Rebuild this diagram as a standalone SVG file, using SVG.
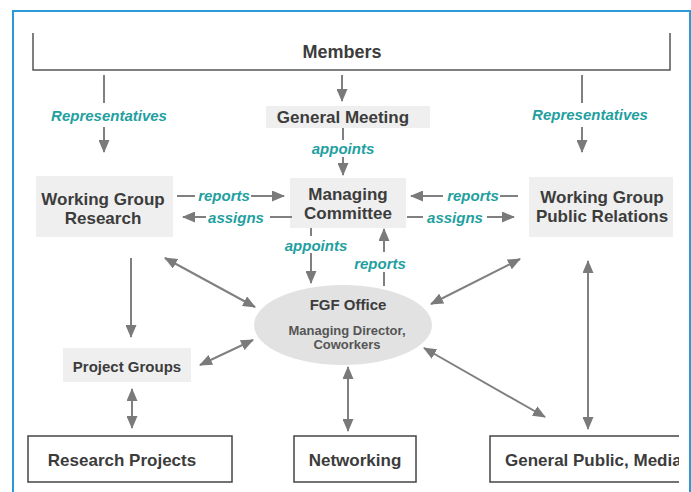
<svg xmlns="http://www.w3.org/2000/svg" width="691" height="492" viewBox="0 0 691 492">
<style>
.node{font-family:"Liberation Sans",Arial,sans-serif;font-weight:bold;fill:#3c3c3c;text-anchor:middle;dominant-baseline:central}
.lbl{font-family:"Liberation Sans",Arial,sans-serif;font-weight:bold;font-style:italic;font-size:15px;fill:#1fa0a0;text-anchor:middle;dominant-baseline:central}
.grey{fill:#efefef;stroke:none}
.box{fill:#fff;stroke:#444;stroke-width:1.5}
.ln{stroke:#808080;stroke-width:2;fill:none}
.a{marker-end:url(#ah)}
.aa{marker-end:url(#ah);marker-start:url(#ah)}
</style>
<defs>
<marker id="ah" viewBox="0 0 13 11" refX="12" refY="5.5" markerWidth="13" markerHeight="11" markerUnits="userSpaceOnUse" orient="auto-start-reverse">
<path d="M0,0 L13,5.5 L0,11 z" fill="#7a7a7a"/>
</marker>
<clipPath id="clipR"><rect x="0" y="0" width="679" height="492"/></clipPath>
</defs>
<rect width="691" height="492" fill="#fff"/>
<path d="M13,492 L13,11 L690,11 L690,492" fill="none" stroke="#2b9ad6" stroke-width="2"/>

<g id="members">
<path d="M33,33 L33,70 L670,70 L670,33" fill="none" stroke="#555" stroke-width="1.5"/>
<text class="node" x="342" y="52" font-size="18">Members</text>
</g>
<g id="general-meeting">
<rect class="grey" x="266" y="106" width="164" height="22"/>
<text class="node" x="343" y="117" font-size="17">General Meeting</text>
</g>
<g id="managing-committee">
<rect class="grey" x="290" y="178" width="116" height="50"/>
<text class="node" x="348" y="194" font-size="17">Managing</text>
<text class="node" x="348" y="213" font-size="17">Committee</text>
</g>
<g id="wg-research">
<rect class="grey" x="36" y="176" width="137" height="61"/>
<text class="node" x="103" y="199" font-size="17">Working Group</text>
<text class="node" x="103" y="218" font-size="17">Research</text>
</g>
<g id="wg-pr">
<rect class="grey" x="529" y="177" width="144" height="60"/>
<text class="node" x="602" y="197" font-size="17">Working Group</text>
<text class="node" x="602" y="216" font-size="17">Public Relations</text>
</g>
<g id="fgf-office">
<ellipse cx="343" cy="325" rx="89" ry="40" fill="#e2e2e2"/>
<text class="node" x="348" y="304" font-size="15">FGF Office</text>
<text class="node" x="347" y="330" font-size="13" fill="#555" style="fill:#555">Managing Director,</text>
<text class="node" x="347" y="344" font-size="13" style="fill:#555">Coworkers</text>
</g>
<g id="project-groups">
<rect class="grey" x="63" y="348" width="128" height="34"/>
<text class="node" x="127" y="366" font-size="15">Project Groups</text>
</g>
<g id="research-projects">
<rect class="box" x="28" y="436" width="204" height="46"/>
<text class="node" x="122" y="460" font-size="17">Research Projects</text>
</g>
<g id="networking">
<rect class="box" x="294" y="436" width="122" height="46"/>
<text class="node" x="355" y="460" font-size="17">Networking</text>
</g>
<g id="general-public" clip-path="url(#clipR)">
<rect class="box" x="490" y="436" width="230" height="46"/>
<text class="node" x="505" y="460" font-size="17" style="text-anchor:start">General Public, Media</text>
</g>

<g id="connectors">
<line class="ln" x1="104" y1="75" x2="104" y2="103"/>
<line class="ln a" x1="104" y1="127" x2="104" y2="152"/>
<text class="lbl" x="109" y="115">Representatives</text>
<line class="ln" x1="582" y1="75" x2="582" y2="103"/>
<line class="ln a" x1="582" y1="127" x2="582" y2="152"/>
<text class="lbl" x="590" y="114">Representatives</text>
<line class="ln a" x1="342" y1="75" x2="342" y2="101"/>
<line class="ln" x1="343" y1="128" x2="343" y2="140"/>
<line class="ln a" x1="343" y1="157" x2="343" y2="175"/>
<text class="lbl" x="343" y="148">appoints</text>

<line class="ln" x1="177" y1="196" x2="195" y2="196"/>
<line class="ln a" x1="251" y1="196" x2="284" y2="196"/>
<text class="lbl" x="224" y="195">reports</text>
<line class="ln a" x1="206" y1="217" x2="183" y2="217"/>
<line class="ln" x1="270" y1="217" x2="292" y2="217"/>
<text class="lbl" x="236" y="217">assigns</text>

<line class="ln a" x1="443" y1="196" x2="411" y2="196"/>
<line class="ln" x1="500" y1="196" x2="518" y2="196"/>
<text class="lbl" x="473" y="195">reports</text>
<line class="ln" x1="407" y1="217" x2="423" y2="217"/>
<line class="ln a" x1="487" y1="217" x2="514" y2="217"/>
<text class="lbl" x="455" y="217">assigns</text>

<line class="ln" x1="311" y1="228" x2="311" y2="236"/>
<line class="ln a" x1="311" y1="253" x2="311" y2="283"/>
<text class="lbl" x="316" y="245">appoints</text>
<line class="ln" x1="384" y1="286" x2="384" y2="272"/>
<line class="ln a" x1="384" y1="252" x2="384" y2="229"/>
<text class="lbl" x="380" y="263">reports</text>

<line class="ln a" x1="131" y1="258" x2="131" y2="337"/>
<line class="ln aa" x1="165" y1="258" x2="255" y2="307"/>
<line class="ln aa" x1="200" y1="365" x2="253" y2="340"/>
<line class="ln aa" x1="520" y1="259" x2="431" y2="304"/>
<line class="ln aa" x1="424" y1="348" x2="545" y2="417"/>
<line class="ln aa" x1="588" y1="261" x2="588" y2="429"/>
<line class="ln aa" x1="348" y1="367" x2="348" y2="431"/>
<line class="ln aa" x1="132" y1="389" x2="132" y2="428"/>
</g>
</svg>
